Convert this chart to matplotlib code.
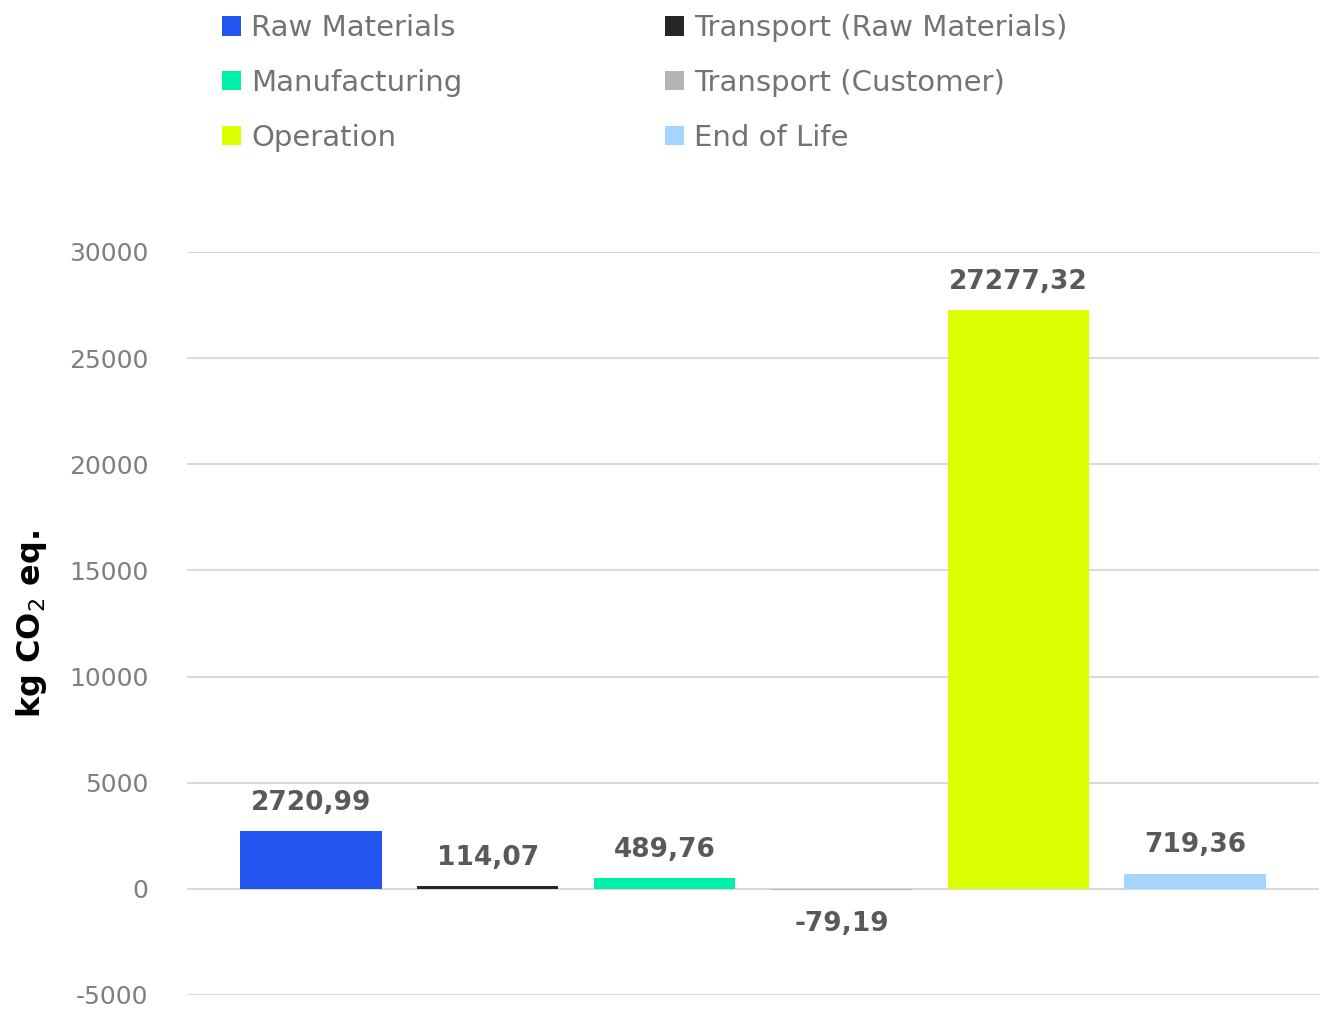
import matplotlib
matplotlib.use("Agg")
import matplotlib.pyplot as plt
from matplotlib.patches import Patch

categories = ["Raw Materials", "Transport (Raw Materials)", "Manufacturing",
              "Transport (Customer)", "Operation", "End of Life"]
values = [2720.99, 114.07, 489.76, -79.19, 27277.32, 719.36]
colors = ["#2356F0", "#262626", "#00F0A8", "#B4B4B4", "#DAFF00", "#A3D5FF"]
yticks = [-5000, 0, 5000, 10000, 15000, 20000, 25000, 30000]
legend_order = [0, 2, 4, 1, 3, 5]

plt.rcParams['font.family'] = ['DejaVu Sans']

fig = plt.figure(figsize=(13.21, 10.10), dpi=100)
ax = fig.add_axes([0.1416, 0.0149, 0.8569, 0.7356])

x = list(range(len(categories)))
ax.bar(x, values, width=0.80, color=colors, zorder=3)

ax.set_xlim(-0.70, 5.70)
ax.set_ylim(-5000, 30000)
ax.set_yticks(yticks)
ax.set_yticklabels([str(t) for t in yticks], fontsize=18, color="#7F7F7F")
ax.set_xticks([])
ax.tick_params(axis='y', length=0, pad=28)
for s in ax.spines.values():
    s.set_visible(False)
ax.yaxis.grid(True, color="#D9D9D9", linewidth=1.5, zorder=0)
ax.set_axisbelow(True)

for xi, v in zip(x, values):
    label = f"{v:.2f}".replace(".", ",")
    if v >= 0:
        ax.annotate(label, (xi, v), xytext=(0, 11), textcoords="offset points",
                    ha="center", va="bottom", fontsize=19, fontweight="bold", color="#595959")
    else:
        ax.annotate(label, (xi, v), xytext=(0, -15), textcoords="offset points",
                    ha="center", va="top", fontsize=19, fontweight="bold", color="#595959")

ax.set_ylabel("kg CO$_2$ eq.", fontsize=23, fontweight="bold", color="black")
ax.yaxis.set_label_coords(-0.122, 0.5)

handles = [Patch(facecolor=colors[i], edgecolor="none") for i in legend_order]
labels = [categories[i] for i in legend_order]
leg = fig.legend(handles, labels, ncol=2, loc="upper left",
                 bbox_to_anchor=(0.148, 1.012), frameon=False,
                 fontsize=21, handlelength=0.65, handleheight=0.65,
                 handletextpad=0.35, columnspacing=6.95, labelspacing=0.92)
for t in leg.get_texts():
    t.set_color("#737373")

fig.savefig("out.png", dpi=100, facecolor="white")
